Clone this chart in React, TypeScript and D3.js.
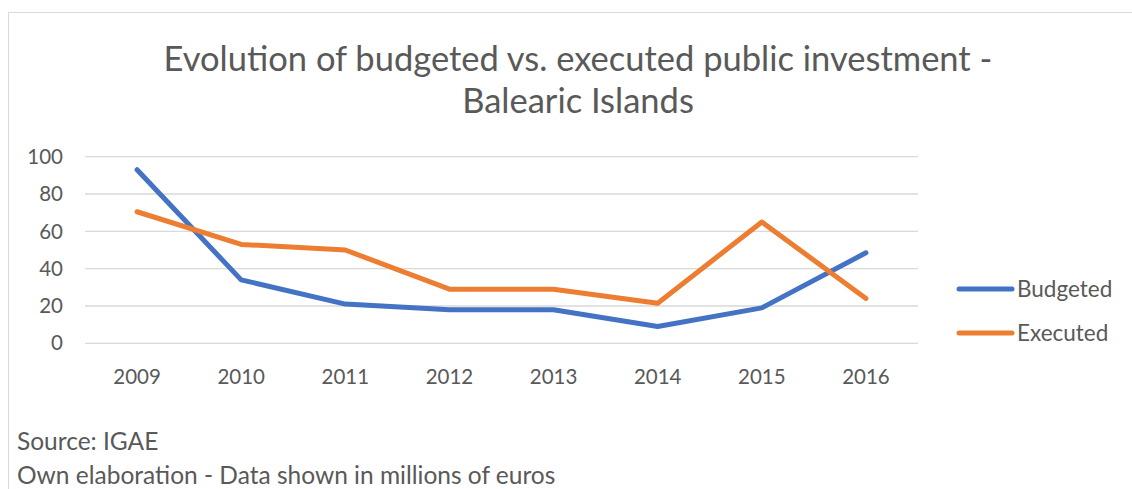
import * as d3 from "d3";
import { useEffect, useRef } from "react";

const WIDTH = 1132;
const HEIGHT = 489;
const PLOT = { left: 85, right: 918, top: 156.7, bottom: 343.3 };
const FONT = "Lato, 'Open Sans', sans-serif";
const TEXT_COLOR = "#595959";

const years = ["2009", "2010", "2011", "2012", "2013", "2014", "2015", "2016"];
const budgeted = [93, 34, 21, 18, 18, 9, 19, 48.5];
const executed = [70.5, 53, 50, 29, 29, 21.5, 65, 24];
const yTicks = [0, 20, 40, 60, 80, 100];

const SERIES = [
  { name: "Budgeted", values: budgeted, color: "#4472c4" },
  { name: "Executed", values: executed, color: "#ed7d31" },
];

const App = () => {
  const svgRef = useRef<SVGSVGElement>(null);

  useEffect(() => {
    if (!svgRef.current) return;
    const svg = d3.select(svgRef.current);
    svg.selectAll("*").remove();

    // chart frame (only the left and top edges show in the crop)
    svg
      .append("path")
      .attr("d", `M8.5,${HEIGHT} V12.5 H${WIDTH}`)
      .attr("fill", "none")
      .attr("stroke", "#d9d9d9")
      .attr("stroke-width", 1);

    const title = svg
      .append("text")
      .attr("text-anchor", "middle")
      .attr("font-family", FONT)
      .attr("font-size", 34.5)
      .attr("fill", TEXT_COLOR);
    title.append("tspan").attr("x", 578).attr("y", 71).text("Evolution of budgeted vs. executed public investment -");
    title.append("tspan").attr("x", 578).attr("y", 113).text("Balearic Islands");

    const x = d3.scaleBand().domain(years).range([PLOT.left, PLOT.right]);
    const y = d3.scaleLinear().domain([0, 100]).range([PLOT.bottom, PLOT.top]);

    const grid = svg.append("g");
    grid
      .selectAll("line")
      .data(yTicks)
      .join("line")
      .attr("x1", PLOT.left)
      .attr("x2", PLOT.right)
      .attr("y1", (d) => y(d))
      .attr("y2", (d) => y(d))
      .attr("stroke", "#d9d9d9")
      .attr("stroke-width", 1.3);

    svg
      .append("g")
      .selectAll("text")
      .data(yTicks)
      .join("text")
      .attr("x", 63)
      .attr("y", (d) => y(d))
      .attr("dy", "0.35em")
      .attr("text-anchor", "end")
      .attr("font-family", FONT)
      .attr("font-size", 20.5)
      .attr("fill", TEXT_COLOR)
      .text((d) => d);

    svg
      .append("g")
      .selectAll("text")
      .data(years)
      .join("text")
      .attr("x", (d) => (x(d) ?? 0) + x.bandwidth() / 2)
      .attr("y", 384)
      .attr("text-anchor", "middle")
      .attr("font-family", FONT)
      .attr("font-size", 20.5)
      .attr("fill", TEXT_COLOR)
      .text((d) => d);

    const line = d3
      .line<number>()
      .x((_, i) => (x(years[i]) ?? 0) + x.bandwidth() / 2)
      .y((d) => y(d));

    SERIES.forEach((s) => {
      svg
        .append("path")
        .datum(s.values)
        .attr("fill", "none")
        .attr("stroke", s.color)
        .attr("stroke-width", 5)
        .attr("stroke-linecap", "round")
        .attr("stroke-linejoin", "round")
        .attr("d", line);
    });

    const legend = svg
      .append("g")
      .selectAll("g")
      .data(SERIES)
      .join("g")
      .attr("transform", (_, i) => `translate(959,${289 + i * 44})`);
    legend
      .append("line")
      .attr("x1", 0)
      .attr("x2", 53)
      .attr("stroke", (d) => d.color)
      .attr("stroke-width", 5)
      .attr("stroke-linecap", "round");
    legend
      .append("text")
      .attr("x", 58)
      .attr("dy", "0.35em")
      .attr("font-family", FONT)
      .attr("font-size", 22.5)
      .attr("fill", TEXT_COLOR)
      .text((d) => d.name);

    const notes = ["Source: IGAE", "Own elaboration - Data shown in millions of euros"];
    svg
      .append("g")
      .selectAll("text")
      .data(notes)
      .join("text")
      .attr("x", 17)
      .attr("y", (_, i) => 450 + i * 34)
      .attr("font-family", FONT)
      .attr("font-size", 24.5)
      .attr("fill", TEXT_COLOR)
      .text((d) => d);
  }, []);

  return (
    <svg
      ref={svgRef}
      width={WIDTH}
      height={HEIGHT}
      style={{ position: "absolute", left: 0, top: 0, background: "#fff" }}
    />
  );
};

export default App;
